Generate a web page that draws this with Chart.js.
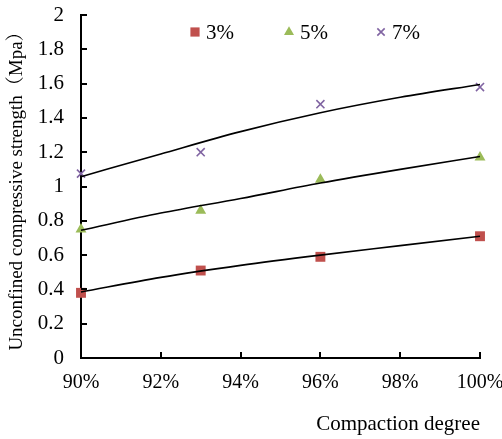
<!DOCTYPE html>
<html>
<head>
<meta charset="utf-8">
<script src="https://cdn.jsdelivr.net/npm/chart.js@4.4.0/dist/chart.umd.min.js"></script>
<style>
    html, body { margin: 0; padding: 0; background: #fff; }
    #wrap { width: 502px; height: 439px; }
</style>
</head>
<body>
<div id="wrap"><canvas id="chart" width="502" height="439"></canvas></div>
<script>
// measured points
const degrees = [90, 93, 96, 100];
const strength3 = [0.38, 0.51, 0.59, 0.71];
const strength5 = [0.75, 0.86, 1.04, 1.17];
const strength7 = [1.075, 1.20, 1.48, 1.58];

// trend curves
const trendX = [90, 92, 94, 96, 98, 100];
const trend3 = [0.385, 0.47, 0.54, 0.60, 0.655, 0.71];
const trend5 = [0.745, 0.845, 0.93, 1.02, 1.10, 1.175];
const trend7 = [1.057, 1.19, 1.32, 1.43, 1.52, 1.595];

const seriesNames = ['3%', '5%', '7%'];
const seriesColors = ['#C0504D', '#9BBB59', '#8064A2'];
const seriesStyles = ['rect', 'triangle', 'crossRot'];
const seriesRadius = [7, 6.3, 5.7];

const yTicks = [0, 0.2, 0.4, 0.6, 0.8, 1, 1.2, 1.4, 1.6, 1.8, 2];
const xTicks = [90, 92, 94, 96, 98, 100];

const serif = "'Liberation Serif', 'Times New Roman', 'Noto Serif CJK SC', 'Noto Sans CJK SC', serif";

function pairs(xs, ys) {
    return xs.map((x, i) => ({x: x, y: ys[i]}));
}

const trendData = [trend3, trend5, trend7];
const pointData = [strength3, strength5, strength7];

const datasets = [];
trendData.forEach(t => {
    datasets.push({
        data: pairs(trendX, t),
        showLine: true,
        clip: false,
        borderColor: '#000',
        borderWidth: 1.6,
        pointRadius: 0,
        cubicInterpolationMode: 'monotone'
    });
});
pointData.forEach((p, i) => {
    datasets.push({
        label: seriesNames[i],
        data: pairs(degrees, p),
        clip: false,
        pointStyle: seriesStyles[i],
        pointRadius: seriesRadius[i],
        pointBackgroundColor: seriesColors[i],
        pointBorderColor: seriesColors[i],
        pointBorderWidth: seriesStyles[i] === 'crossRot' ? 1.6 : 0,
        showLine: false
    });
});

// inward tick marks
const innerTicks = {
    id: 'innerTicks',
    afterDraw(chart) {
        const ctx = chart.ctx;
        const a = chart.chartArea;
        const xs = chart.scales.x, ys = chart.scales.y;
        ctx.save();
        ctx.strokeStyle = '#000';
        ctx.lineWidth = 2;
        yTicks.forEach(v => {
            const y = Math.round(ys.getPixelForValue(v));
            ctx.beginPath();
            ctx.moveTo(a.left, y);
            ctx.lineTo(a.left + 6, y);
            ctx.stroke();
        });
        xTicks.forEach(v => {
            const x = Math.round(xs.getPixelForValue(v));
            ctx.beginPath();
            ctx.moveTo(x, a.bottom);
            ctx.lineTo(x, a.bottom - 6);
            ctx.stroke();
        });
        ctx.restore();
    }
};

// legend drawn inside the plot area
const legendOffsets = [114, 208, 300];
const markerLegend = {
    id: 'markerLegend',
    afterDraw(chart) {
        const ctx = chart.ctx;
        const a = chart.chartArea;
        ctx.save();
        ctx.font = '21px ' + serif;
        ctx.textBaseline = 'middle';
        seriesNames.forEach((name, i) => {
            const x = a.left + legendOffsets[i];
            const y = a.top + 17;
            ctx.fillStyle = seriesColors[i];
            ctx.strokeStyle = seriesColors[i];
            ctx.lineWidth = 1.6;
            Chart.helpers.drawPoint(ctx, {
                pointStyle: seriesStyles[i],
                radius: seriesRadius[i] - 0.5,
                rotation: 0,
                borderWidth: seriesStyles[i] === 'crossRot' ? 1.6 : 0
            }, x, y);
            ctx.fillStyle = '#000';
            ctx.fillText(name, x + 11, y + 1);
        });
        ctx.restore();
    }
};

new Chart(document.getElementById('chart'), {
    type: 'scatter',
    data: { datasets: datasets },
    options: {
        responsive: false,
        animation: false,
        layout: { padding: { top: 15, right: 22, left: 0, bottom: 0 } },
        plugins: {
            legend: { display: false },
            tooltip: { enabled: false }
        },
        scales: {
            x: {
                type: 'linear',
                min: 90,
                max: 100,
                afterBuildTicks(scale) {
                    scale.ticks = xTicks.map(v => ({value: v}));
                },
                afterFit(scale) {
                    scale.height = 81;
                    scale.paddingLeft = 0;
                    scale.paddingRight = 0;
                },
                grid: { display: false, drawTicks: false },
                border: { display: true, color: '#000', width: 2 },
                ticks: {
                    color: '#000',
                    padding: 13,
                    font: { family: serif, size: 20 },
                    callback: v => v + '%'
                },
                title: {
                    display: true,
                    align: 'end',
                    text: 'Compaction degree',
                    color: '#000',
                    font: { family: serif, size: 21 },
                    padding: { top: 0, bottom: 2 }
                }
            },
            y: {
                type: 'linear',
                min: 0,
                max: 2,
                afterBuildTicks(scale) {
                    scale.ticks = yTicks.map(v => ({value: v}));
                },
                afterFit(scale) {
                    scale.width = 81;
                    scale.paddingTop = 0;
                    scale.paddingBottom = 0;
                },
                grid: { display: false, drawTicks: false },
                border: { display: true, color: '#000', width: 2 },
                ticks: {
                    color: '#000',
                    padding: 17,
                    font: { family: serif, size: 21 },
                    callback: v => Number.isInteger(v) ? String(v) : v.toFixed(1)
                },
                title: {
                    display: true,
                    text: 'Unconfined compressive strength（Mpa）',
                    color: '#000',
                    font: { family: serif, size: 19 },
                    padding: { top: 6, bottom: 0 }
                }
            }
        }
    },
    plugins: [innerTicks, markerLegend]
});
</script>
</body>
</html>
